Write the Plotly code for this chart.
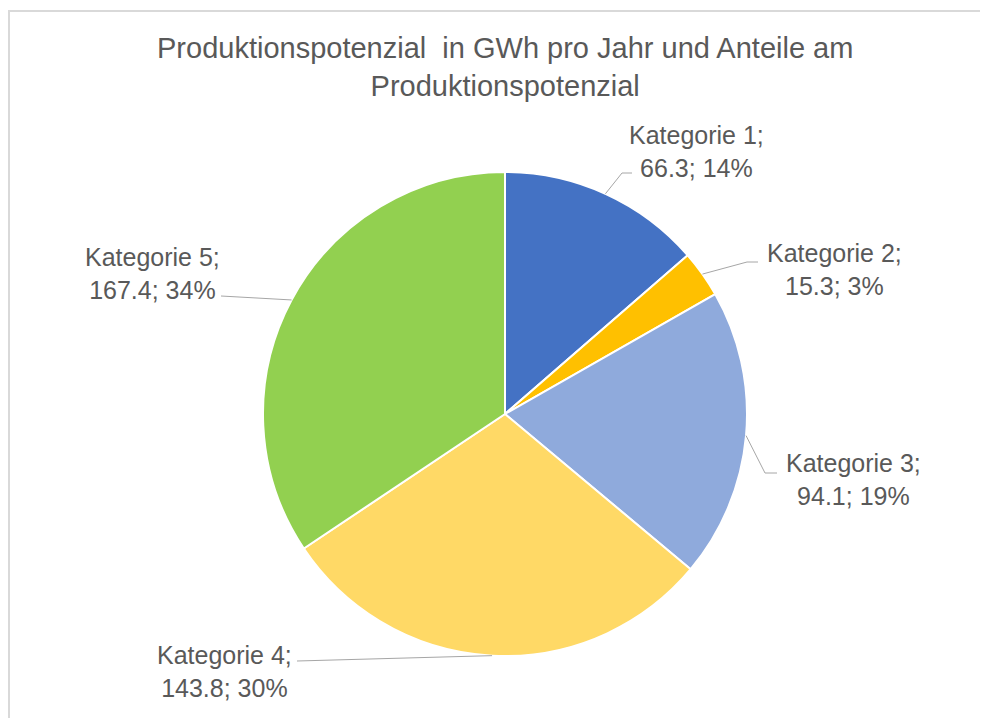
import math
import plotly.graph_objects as go

# data
categories = ["Kategorie 1", "Kategorie 2", "Kategorie 3", "Kategorie 4", "Kategorie 5"]
values = [66.3, 15.3, 94.1, 143.8, 167.4]
colors = ["#4472C4", "#FFC000", "#8FAADC", "#FFD966", "#92D050"]

W, H = 988, 718
OFF = 8  # page body margin
# pie placement in pixels (window coords)
cx, cy, r = 505, 414, 242

def px(x):
    return (x - OFF) / W

def py(y):
    return 1 - (y - OFF) / H

total = sum(values)
pcts = [round(v / total * 100) for v in values]

fig = go.Figure(go.Pie(
    labels=categories,
    values=values,
    sort=False,
    direction="clockwise",
    rotation=0,
    marker=dict(colors=colors, line=dict(color="white", width=2)),
    textinfo="none",
    hovertemplate="%{label}: %{value} (%{percent})<extra></extra>",
    domain=dict(x=[px(cx - r), px(cx + r)], y=[py(cy + r), py(cy - r)]),
    showlegend=False,
))

# label text positions (centre of text block) and leader elbows, in pixels
label_pos = [(696, 151), (834, 269), (853, 480), (224, 671), (152, 273)]
elbows = [[(622, 173), (632, 173)],
          [(747, 262), (758, 262)],
          [(765, 473), (777, 473)],
          [(297, 661)],
          [(221, 296)]]

font_fam = "Liberation Sans, Arial"
shapes = []
annotations = []
cum = 0
for i, v in enumerate(values):
    mid = (cum + v / 2) / total * 2 * math.pi
    cum += v
    ex = cx + r * math.sin(mid)
    ey = cy - r * math.cos(mid)
    pts = [(ex, ey)] + elbows[i]
    path = "M " + " L ".join(f"{px(a)},{py(b)}" for a, b in pts)
    shapes.append(dict(type="path", path=path, xref="paper", yref="paper",
                       line=dict(color="#A6A6A6", width=1)))
    tx, ty = label_pos[i]
    annotations.append(dict(
        x=px(tx), y=py(ty), xref="paper", yref="paper",
        text=f"{categories[i]};<br>{v}; {pcts[i]}%",
        showarrow=False, xanchor="center", yanchor="middle", align="center",
        font=dict(family=font_fam, size=25, color="#595959"),
    ))

# title
annotations.append(dict(
    x=px(505), y=py(67), xref="paper", yref="paper",
    text="Produktionspotenzial  in GWh pro Jahr und Anteile am<br>Produktionspotenzial",
    showarrow=False, xanchor="center", yanchor="middle", align="center",
    font=dict(family=font_fam, size=29, color="#595959"),
))

# chart frame
shapes.append(dict(type="rect", xref="paper", yref="paper",
                   x0=px(9), y0=py(11), x1=1.05, y1=-0.05,
                   line=dict(color="#D9D9D9", width=2)))

fig.update_layout(
    width=W, height=H,
    margin=dict(l=0, r=0, t=0, b=0),
    paper_bgcolor="white",
    plot_bgcolor="white",
    shapes=shapes,
    annotations=annotations,
)

fig.write_html("out.html")
